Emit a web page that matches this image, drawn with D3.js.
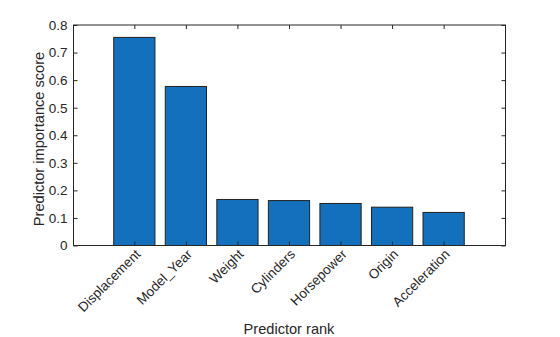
<!DOCTYPE html>
<html><head><meta charset="utf-8">
<script src="https://cdn.jsdelivr.net/npm/d3@7"></script>
<style>body{margin:0;background:#fff}svg{display:block}text{font-family:"Liberation Sans",Arial,Helvetica,sans-serif;fill:#262626}</style>
</head><body>
<script>
const categories = ["Displacement","Model_Year","Weight","Cylinders","Horsepower","Origin","Acceleration"];
const importance = [0.755, 0.577, 0.167, 0.163, 0.1525, 0.139, 0.120];
const yTicks = [0,0.1,0.2,0.3,0.4,0.5,0.6,0.7,0.8];
const xLabel = "Predictor rank";
const yLabel = "Predictor importance score";

const W=560,H=337;
const L=73.5,R=505.5,T=25,B=245.5;
const svg=d3.select("body").append("svg").attr("width",W).attr("height",H);
const x=d3.scaleLinear().domain([-0.18,8.2]).range([L,R]);
const y=d3.scaleLinear().domain([0,0.8]).range([B,T]);
const bw=(x(1)-x(0))*0.8;

svg.append("g").selectAll("rect").data(importance).join("rect")
  .attr("x",(d,i)=>x(i+1)-bw/2).attr("width",bw)
  .attr("y",d=>y(d)).attr("height",d=>y(0)-y(d))
  .attr("fill","#1270bd").attr("stroke","#222").attr("stroke-width",1);

const idx=categories.map((c,i)=>i+1);
const yAxis=d3.axisLeft(y).tickValues(yTicks).tickSize(-4).tickPadding(6).tickFormat(d=>d===0?"0":d3.format(".1f")(d));
const gy=svg.append("g").attr("transform",`translate(${L},0)`).call(yAxis);
const gyr=svg.append("g").attr("transform",`translate(${R},0)`).call(d3.axisRight(y).tickValues(yTicks).tickSize(-4).tickFormat(""));
const xAxis=d3.axisBottom(x).tickValues(idx).tickSize(-4).tickFormat((d,i)=>categories[i]);
const gx=svg.append("g").attr("transform",`translate(0,${B})`).call(xAxis);
const gxt=svg.append("g").attr("transform",`translate(0,${T})`).call(d3.axisTop(x).tickValues(idx).tickSize(-4).tickFormat(""));
[gy,gyr,gx,gxt].forEach(g=>{g.select(".domain").remove();g.selectAll("line").attr("stroke","#262626");g.selectAll("text").style("font-size","13.5px").attr("fill","#262626");});
gx.selectAll("text").attr("text-anchor","end").attr("dy",null).attr("dominant-baseline","middle")
  .attr("transform","translate(4,7) rotate(-45)").attr("y",0);
svg.append("rect").attr("x",L).attr("y",T).attr("width",R-L).attr("height",B-T)
  .attr("fill","none").attr("stroke","#262626").attr("stroke-width",1);

svg.append("text").attr("x",289).attr("y",334).attr("text-anchor","middle").style("font-size","14.6px").text(xLabel);
svg.append("text").attr("transform",`translate(44,139) rotate(-90)`).attr("text-anchor","middle").style("font-size","14.6px").text(yLabel);
</script>
</body></html>
